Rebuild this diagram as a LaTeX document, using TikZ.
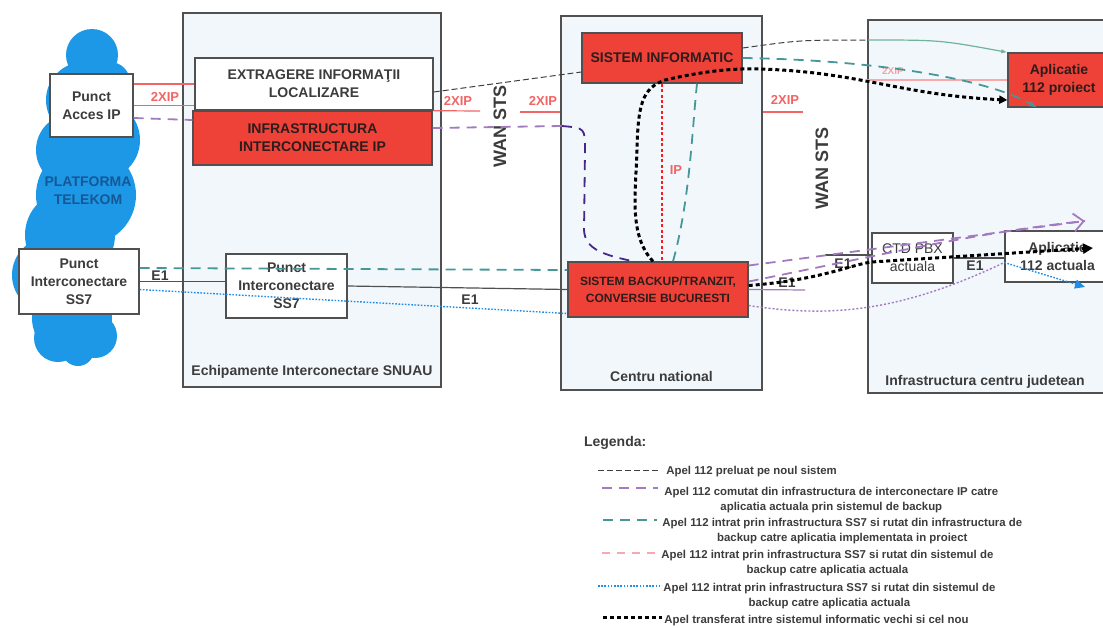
\documentclass[tikz,border=0pt]{standalone}
\usepackage{fontspec}
\setmainfont{Liberation Sans}
\usetikzlibrary{arrows.meta}

\definecolor{boxred}{RGB}{238,66,56}
\definecolor{redtext}{RGB}{45,28,28}
\definecolor{boxline}{RGB}{80,80,80}
\definecolor{boxtext}{RGB}{60,60,60}
\definecolor{panelfill}{RGB}{242,247,252}
\definecolor{cloudblue}{RGB}{28,152,230}
\definecolor{cloudtext}{RGB}{22,88,150}
\definecolor{ipred}{RGB}{243,100,100}
\definecolor{lilac}{RGB}{163,122,192}
\definecolor{darklilac}{RGB}{72,38,138}
\definecolor{tealdash}{RGB}{70,152,152}
\definecolor{pinkdash}{RGB}{246,168,180}
\definecolor{bluedot}{RGB}{30,140,232}
\definecolor{sage}{RGB}{110,180,155}

\tikzset{
    panel/.style={draw=boxline, line width=0.7pt, fill=panelfill},
    whitebox/.style={draw=boxline, line width=0.7pt, fill=white, align=center,
        text=boxtext, font=\fontsize{7}{9}\selectfont\bfseries, inner sep=1pt},
    redbox/.style={whitebox, fill=boxred, text=redtext},
    paneltitle/.style={font=\fontsize{7}{8}\selectfont\bfseries, text=boxtext},
    linklabel/.style={font=\fontsize{7}{8}\selectfont\bfseries, text=boxtext},
    iplabel/.style={font=\fontsize{6.5}{8}\selectfont\bfseries, text=ipred},
    wanlabel/.style={font=\fontsize{9}{10}\selectfont\bfseries, text=boxtext, rotate=90},
    legendtext/.style={font=\fontsize{5.7}{7.5}\selectfont\bfseries, text=boxtext,
        align=center, inner sep=0pt, anchor=north west},
    e1link/.style={draw=boxline, line width=0.6pt},
    ipline/.style={draw=ipred, line width=0.6pt},
    ipdash/.style={draw=red!90, line width=0.6pt, dash pattern=on 1.5pt off 1.2pt},
    newcall/.style={draw=black!75, line width=0.5pt, dash pattern=on 3pt off 1.5pt},
    ipcall/.style={draw=lilac, line width=0.9pt, dash pattern=on 5pt off 3.5pt},
    sscall/.style={draw=tealdash, line width=0.9pt, dash pattern=on 5pt off 3.5pt},
    bkcall/.style={draw=pinkdash, line width=0.7pt, dash pattern=on 4pt off 3.5pt},
    bluecall/.style={draw=bluedot, line width=0.7pt, dash pattern=on 0.8pt off 0.8pt},
    transfer/.style={draw=black, line width=1.5pt, dash pattern=on 2pt off 1.5pt},
}

\begin{document}
\begin{tikzpicture}[x=0.5pt, y=-0.5pt]
    \useasboundingbox[fill=white] (0,0) rectangle (1103,627);

    % platforma telekom
    \fill[cloudblue] (92,55) circle (26) (110,82) circle (20) (84,100) circle (38)
        (100,140) circle (40) (72,150) circle (36) (86,195) circle (50)
        (70,235) circle (45) (50,275) circle (38) (85,280) circle (40)
        (72,318) circle (40) (58,338) circle (24) (95,336) circle (22) (78,350) circle (16);
    \node[font=\fontsize{7}{9}\selectfont\bfseries, text=cloudtext, align=center] (telekom) at (88,191) {PLATFORMA\\TELEKOM};

    % panouri
    \node[panel, minimum width=129pt, minimum height=187pt] (snuau) at (312,200) {};
    \node[panel, minimum width=100.5pt, minimum height=187pt] (centru) at (661.5,203) {};
    \node[panel, minimum width=121pt, minimum height=186.5pt] (judet) at (989,206.5) {};
    \node[paneltitle, anchor=south] (snuautitle) at ([yshift=1pt]snuau.south) {Echipamente Interconectare SNUAU};
    \node[paneltitle, anchor=south] (centrutitle) at ([yshift=1pt]centru.south) {Centru national};
    \node[paneltitle] (judettitle) at (985,382) {Infrastructura centru judetean};

    % echipamente
    \node[whitebox, minimum width=41.5pt, minimum height=31.5pt] (acces) at (91.5,105.5) {Punct\\Acces IP};
    \node[whitebox, minimum width=60pt, minimum height=32.5pt] (ss7a) at (79,281.5) {Punct\\Interconectare\\SS7};
    \node[whitebox, minimum width=119pt, minimum height=26pt] (extr) at (314,84) {EXTRAGERE INFORMAŢII\\LOCALIZARE};
    \node[redbox, minimum width=119.5pt, minimum height=27pt] (infra) at (312.5,138) {INFRASTRUCTURA\\INTERCONECTARE IP};
    \node[whitebox, minimum width=60.5pt, minimum height=32pt] (ss7b) at (286.5,286) {Punct\\Interconectare\\SS7};
    \node[redbox, minimum width=80pt, minimum height=25pt] (sisinf) at (662,58) {SISTEM INFORMATIC};
    \node[redbox, minimum width=90pt, minimum height=27.5pt, font=\fontsize{6}{8.5}\selectfont\bfseries] (backup) at (658,289.5) {SISTEM BACKUP/TRANZIT,\\CONVERSIE BUCURESTI};
    \node[redbox, minimum width=51pt, minimum height=27pt] (aplnou) at (1059,80) {Aplicatie\\112 proiect};
    \node[whitebox, minimum width=40.5pt, minimum height=25pt, font=\fontsize{7}{9}\selectfont] (ctd) at (912.5,258) {CTD PBX\\actuala};
    \node[whitebox, minimum width=52.5pt, minimum height=25.5pt] (aplact) at (1057.5,256.5) {Aplicatie\\112 actuala};

    \node[wanlabel] (wan1) at (500,126) {WAN STS};
    \node[wanlabel] (wan2) at (822,168) {WAN STS};

    \coordinate (wanL) at (480,111);
    \coordinate (wanR) at (520,112);
    \coordinate (wanE) at (803,112);
    \coordinate (jtop) at (868,40);
    \coordinate (pturn) at (562,126);
    \coordinate (tipP) at (1085,221);
    \coordinate (tipB) at (1093,248);
    \coordinate (tipC) at (1085,287);
    \coordinate (e1stub) at (805,290);
    \coordinate (e1free) at (825,255);

    % legaturi 2XIP
    \draw[ipline] (acces.east |- extr.west) -- (extr.west);
    \draw[ipline] (acces.east) -- (acces.east -| extr.west);
    \draw[ipline] (extr.south east) -- (wanL);
    \draw[ipline] (wanR) -- (centru.west |- wanR);
    \draw[ipline] (centru.east |- wanE) -- (wanE);
    \draw[ipline, draw=ipred!55] (judet.west |- aplnou.west) -- (aplnou.west);
    \draw[ipdash] (sisinf.south) -- (sisinf.south |- backup.north);
    \node[iplabel] at (165,97) {2XIP};
    \node[iplabel] at (458,101) {2XIP};
    \node[iplabel] at (543,101) {2XIP};
    \node[iplabel] at (785,100) {2XIP};
    \node[iplabel, font=\fontsize{5}{6}\selectfont\bfseries, text=ipred!60] at (893,71) {2XIP};
    \node[iplabel] at (676,170) {IP};

    % legaturi E1
    \draw[e1link] (ss7a.east) -- (ss7a.east -| ss7b.west);
    \draw[e1link] (ss7b.east) -- (backup.west);
    \draw[draw=lilac, line width=0.6pt] (backup.east) -- (e1stub);
    \draw[e1link] (e1free) -- (e1free -| ctd.west);
    \draw[e1link] (ctd.east) -- (ctd.east -| aplact.west);
    \node[linklabel] at (160,276) {E1};
    \node[linklabel] at (470,300) {E1};
    \node[linklabel] at (787,283) {E1};
    \node[linklabel] at (843,264) {E1};
    \node[linklabel] at (975,266) {E1};

    % apel preluat pe noul sistem
    \draw[newcall] ([yshift=-4pt]extr.east) -- ([yshift=-7pt]sisinf.west);
    \draw[newcall] ([yshift=5pt]sisinf.east) .. controls (800,40) .. (jtop);
    \draw[draw=sage, line width=0.6pt, -{Latex[length=3pt]}] (jtop) .. controls (940,40) .. (aplnou.north west);

    % apel comutat din infrastructura IP
    \draw[ipcall] ([yshift=-6.25pt]acces.east) -- ([yshift=9pt]infra.west);
    \draw[ipcall] ([yshift=5pt]infra.east) -- (pturn);
    \draw[ipcall, draw=darklilac] (pturn) .. controls (585,128) .. (585,150) -- (584,230)
        .. controls (585,250) and (605,255) .. ([xshift=-12.5pt]backup.north);
    \draw[ipcall, -{Straight Barb[length=5pt,width=9pt]}] ([yshift=12pt]backup.east) -- (tipP);
    \draw[ipcall] ([yshift=4pt]backup.east) .. controls (880,255) and (980,232) .. (tipP);

    % apel intrat prin SS7, rutat catre aplicatia din proiect
    \draw[sscall] ([yshift=6.75pt]ss7a.east) -- ([yshift=9.75pt]backup.west);
    \draw[sscall] ([xshift=7.5pt]backup.north) .. controls (690,200) and (692,130) .. ([xshift=17.5pt]sisinf.south);
    \draw[sscall, -{Latex[length=4pt]}] (sisinf.east) .. controls (880,60) and (990,80) .. ([xshift=-11pt]aplnou.south);

    % apel intrat prin SS7, rutat catre aplicatia actuala
    \draw[bluecall] ([yshift=-4pt]ss7a.east) -- ([yshift=-12pt]backup.west);
    \draw[draw=lilac, line width=0.7pt, dash pattern=on 1pt off 1pt] ([yshift=-8pt]backup.east)
        .. controls (830,318) and (900,312) .. ([yshift=-3pt]aplact.west);
    \draw[bluecall, -{Triangle[length=5pt,width=4.5pt]}] ([yshift=-3pt]aplact.west) -- (tipC);

    % apel transferat
    \draw[transfer, -{Triangle[length=4pt,width=4pt]}] ([xshift=-2.5pt]backup.north)
        .. controls (628,235) and (636,190) .. (637,150)
        .. controls (638,105) and (642,88) .. (665,80)
        .. controls (700,72) and (730,68) .. (760,69)
        .. controls (860,72) and (900,95) .. ([yshift=-10pt]aplnou.west);
    \draw[transfer, -{Triangle[length=5pt,width=5pt]}] ([yshift=2pt]backup.east)
        .. controls (820,280) and (850,265) .. ([yshift=-2pt]ctd.west) -- (tipB);

    % legenda
    \node[font=\fontsize{7}{8}\selectfont\bfseries, text=boxtext, anchor=west] (legtitle) at (577,443) {Legenda:};
    \draw[newcall] (598,470) -- (660,470);
    \node[legendtext] (leg1) at (666,465.5) {Apel 112 preluat pe noul sistem};
    \draw[ipcall] (602,488) -- (658,488);
    \node[legendtext] (leg2) at (664,486.5) {Apel 112 comutat din infrastructura de interconectare IP catre\\aplicatia actuala prin sistemul de backup};
    \draw[sscall] (603,520) -- (657,520);
    \node[legendtext] (leg3) at (662,517.5) {Apel 112 intrat prin infrastructura SS7 si rutat din infrastructura de\\backup catre aplicatia implementata in proiect};
    \draw[bkcall] (602,553) -- (657,553);
    \node[legendtext] (leg4) at (661,549.5) {Apel 112 intrat prin infrastructura SS7 si rutat din sistemul de\\backup catre aplicatia actuala};
    \draw[bluecall] (598,586) -- (662,586);
    \node[legendtext] (leg5) at (663,582.5) {Apel 112 intrat prin infrastructura SS7 si rutat din sistemul de\\backup catre aplicatia actuala};
    \draw[transfer] (603,617) -- (662,617);
    \node[legendtext] (leg6) at (664,614.5) {Apel transferat intre sistemul informatic vechi si cel nou};
\end{tikzpicture}
\end{document}
